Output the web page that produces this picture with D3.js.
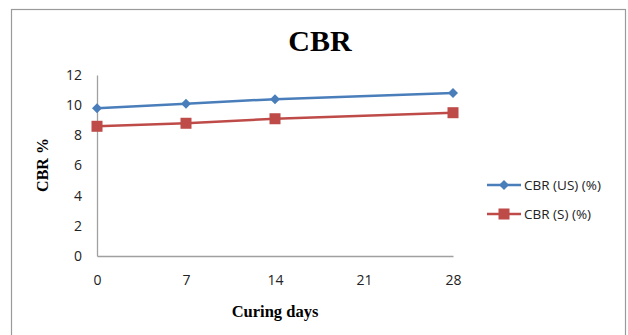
<!DOCTYPE html>
<html><head><meta charset="utf-8">
<script src="https://cdn.jsdelivr.net/npm/d3@7"></script>
<style>body{margin:0;background:#fff}svg{display:block}</style>
</head><body>
<script>
const days = [0, 7, 14, 28];
const xTicks = [0, 7, 14, 21, 28];
const yTicks = [0, 2, 4, 6, 8, 10, 12];
const seriesNames = ["CBR (US) (%)", "CBR (S) (%)"];
const cbrUS = [9.8, 10.1, 10.4, 10.8];
const cbrS = [8.6, 8.8, 9.1, 9.5];
const colors = ["#4A7EBB", "#BE4B48"];

const W = 628, H = 335;
const svg = d3.select("body").append("svg").attr("width", W).attr("height", H);
svg.append("rect").attr("x", 11.5).attr("y", 9.5).attr("width", 614).attr("height", 340)
  .attr("fill", "#fff").attr("stroke", "#9a9a9a").attr("stroke-width", 1.2);

const x = d3.scaleLinear().domain([0, 28]).range([97, 453]);
const y = d3.scaleLinear().domain([0, 12]).range([256, 75]);

svg.append("text").attr("x", 320).attr("y", 51).attr("text-anchor", "middle")
  .attr("font-family", "Liberation Serif, Times New Roman, serif").attr("font-weight", "bold")
  .attr("font-size", 30).text("CBR");

// axes
const yAx = svg.append("g").attr("transform", "translate(97,0)")
  .call(d3.axisLeft(y).tickValues(yTicks).tickSize(0).tickPadding(15));
const xAx = svg.append("g").attr("transform", "translate(0,256)")
  .call(d3.axisBottom(x).tickValues(xTicks).tickSize(0).tickPadding(19));
[yAx, xAx].forEach(g => {
  g.select(".domain").attr("stroke", "#a0a0a0").attr("stroke-width", 1.3);
  g.selectAll("text").attr("font-family", "Open Sans, Liberation Sans, sans-serif")
    .attr("font-size", 14).attr("fill", "#222");
});

svg.append("text").attr("x", 275).attr("y", 317).attr("text-anchor", "middle")
  .attr("font-family", "Liberation Serif, Times New Roman, serif").attr("font-weight", "bold")
  .attr("font-size", 16.5).text("Curing days");
svg.append("text").attr("transform", "translate(48,165) rotate(-90)").attr("text-anchor", "middle")
  .attr("font-family", "Liberation Serif, Times New Roman, serif").attr("font-weight", "bold")
  .attr("font-size", 16).text("CBR %");

const line = d3.line().x((d, i) => x(days[i])).y(d => y(d));
const data = [cbrUS, cbrS];
function drawMarker(g, k, cx, cy) {
  if (k === 0) {
    g.append("path").attr("d", d3.symbol().type(d3.symbolSquare).size(50)())
      .attr("transform", `translate(${cx},${cy}) rotate(45)`).attr("fill", colors[0]);
  } else {
    g.append("rect").attr("x", cx - 5.5).attr("y", cy - 5.5).attr("width", 11).attr("height", 11)
      .attr("fill", colors[1]);
  }
}
data.forEach((s, k) => {
  svg.append("path").datum(s).attr("d", line).attr("fill", "none")
    .attr("stroke", colors[k]).attr("stroke-width", 2.5);
  const g = svg.append("g");
  s.forEach((v, i) => drawMarker(g, k, x(days[i]), y(v)));
});

// legend
seriesNames.forEach((n, k) => {
  const ly = 185 + k * 29;
  svg.append("line").attr("x1", 487).attr("x2", 521).attr("y1", ly).attr("y2", ly)
    .attr("stroke", colors[k]).attr("stroke-width", 2.5);
  drawMarker(svg, k, 504, ly);
  svg.append("text").attr("x", 524).attr("y", ly + 5)
    .attr("font-family", "Open Sans, Liberation Sans, sans-serif").attr("font-size", 13.5)
    .attr("fill", "#222").text(n);
});
</script>
</body></html>
